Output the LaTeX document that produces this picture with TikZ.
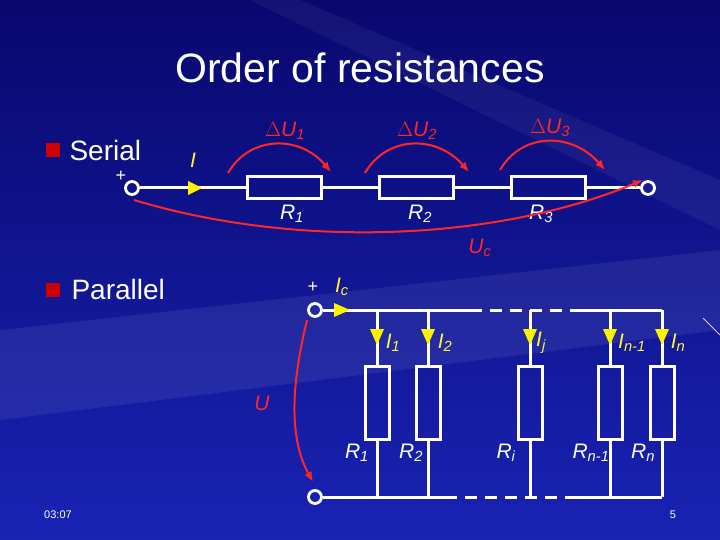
\documentclass[tikz,border=0pt]{standalone}
\usepackage{fontspec}
\setmainfont{Liberation Sans}
\usetikzlibrary{arrows.meta}
\begin{document}
\begin{tikzpicture}[x=1pt,y=-1pt,
 wire/.style={white,line width=3pt},
 res/.style={draw=white,line width=3pt,fill=none,inner sep=0pt},
 term/.style={circle,draw=white,line width=2.8pt,minimum size=13pt,inner sep=0pt},
 rarr/.style={red!85!white,line width=2pt,-{Latex[length=10pt,width=8pt]}},
 lab/.style={white,font=\fontsize{21}{22}\selectfont\itshape},
 rlab/.style={red!85!white,font=\fontsize{21}{22}\selectfont\itshape},
 ylab/.style={yellow!80!white,font=\fontsize{21}{22}\selectfont\itshape}]
\useasboundingbox (0,0) rectangle (720,540);
\shade[top color={rgb,255:red,8;green,8;blue,110},bottom color={rgb,255:red,25;green,35;blue,180}] (0,0) rectangle (720,540);
\fill[white,opacity=0.07] (0,330) -- (720,250) -- (720,330) -- (0,420) -- cycle;
\fill[white,opacity=0.05] (300,0) -- (720,180) -- (720,230) -- (250,0) -- cycle;
\draw[white!80!violet,line width=0.8pt] (703,318) -- (720,335);

\node[white,font=\fontsize{41}{44}\selectfont] (title) at (360,68) {Order of resistances};
\node[fill=red!80!black,minimum size=14pt,inner sep=0pt] (b1) at (53,150) {};
\node[white,font=\fontsize{28}{30}\selectfont,anchor=west] (ser) at (66,150) {Serial};
\node[fill=red!80!black,minimum size=14pt,inner sep=0pt] (b2) at (53,290) {};
\node[white,font=\fontsize{28}{30}\selectfont,anchor=west] (par) at (68,289) {Parallel};

% serial
\node[term] (t1) at (132,188) {};
\node[term] (t2) at (648,188) {};
\node[res,minimum width=74pt,minimum height=22pt] (r1) at (284,188) {};
\node[res,minimum width=74pt,minimum height=22pt] (r2) at (416,188) {};
\node[res,minimum width=74pt,minimum height=22pt] (r3) at (548,188) {};
\draw[wire] (t1) -- (r1) -- (r2) -- (r3) -- (t2);
\node[white,font=\fontsize{18}{18}\selectfont] (pl1) at (121,176) {+};
\fill[yellow] (188,181) -- (202,188) -- (188,195) -- cycle;
\node[ylab] (I) at (193,160) {I};
\node[lab] (lr1) at (292,214) {R\textsubscript{1}};
\node[lab] (lr2) at (420,214) {R\textsubscript{2}};
\node[lab] (lr3) at (541,214) {R\textsubscript{3}};
\coordinate (a1s) at (228,173); \coordinate (a1e) at (331,172);
\coordinate (a2s) at (365,173); \coordinate (a2e) at (469,172);
\coordinate (a3s) at (500,170); \coordinate (a3e) at (605,170);
\draw[rarr] (a1s) .. controls (250,135) and (300,135) .. (a1e);
\draw[rarr] (a2s) .. controls (387,135) and (437,135) .. (a2e);
\draw[rarr] (a3s) .. controls (522,132) and (572,132) .. (a3e);
\node[rlab] (du1) at (285,131) {$\Delta$U\textsubscript{1}};
\node[rlab] (du2) at (417,131) {$\Delta$U\textsubscript{2}};
\node[rlab] (du3) at (550,128) {$\Delta$U\textsubscript{3}};
\draw[rarr] (134,200) .. controls (300,250) and (500,240) .. (643,180);
\node[rlab] (uc) at (480,248) {U\textsubscript{c}};

% parallel
\node[term] (p1) at (315,310) {};
\node[term] (p2) at (315,497) {};
\node[white,font=\fontsize{18}{18}\selectfont] (pl2) at (313,287) {+};
\node[ylab] (ic) at (342,287) {I\textsubscript{c}};
\foreach \x/\n in {377/1,428/2,530/3,610/4,662/5}{
  \node[res,minimum width=24pt,minimum height=73pt] (b\n) at (\x,403) {};
  \coordinate (top\n) at (\x,310);
  \coordinate (bot\n) at (\x,497);
  \draw[wire] (top\n) -- (b\n.north);
  \draw[wire] (b\n.south) -- (bot\n);
  \fill[yellow] (\x-7,329) -- (\x+7,329) -- (\x,345) -- cycle;
}
\draw[wire] (p1) -- (470,310);
\draw[wire,dash pattern=on 12pt off 8pt] (470,310) -- (572,310);
\draw[wire] (572,310) -- (top5);
\draw[wire] (p2) -- (445,497);
\draw[wire,dash pattern=on 12pt off 8pt] (445,497) -- (572,497);
\draw[wire] (572,497) -- (bot5);
\fill[yellow] (334,303) -- (350,310) -- (334,317) -- cycle;
\node[ylab] (li1) at (393,343) {I\textsubscript{1}};
\node[ylab] (li2) at (445,343) {I\textsubscript{2}};
\node[ylab] (lij) at (541,343) {I\textsubscript{j}};
\node[ylab] (lin1) at (632,343) {I\textsubscript{n-1}};
\node[ylab] (lin) at (678,343) {I\textsubscript{n}};
\node[lab] (lR1) at (357,453) {R\textsubscript{1}};
\node[lab] (lR2) at (411,453) {R\textsubscript{2}};
\node[lab] (lRi) at (506,453) {R\textsubscript{i}};
\node[lab] (lRn1) at (591,453) {R\textsubscript{n-1}};
\node[lab] (lRn) at (643,453) {R\textsubscript{n}};
\draw[rarr] (307,320) .. controls (290,390) and (290,440) .. (313,482);
\node[rlab] (U) at (262,403) {U};

\node[white,font=\fontsize{11}{12}\selectfont] (time) at (58,515) {03:07};
\node[white,font=\fontsize{11}{12}\selectfont] (pg) at (673,515) {5};
\end{tikzpicture}
\end{document}
